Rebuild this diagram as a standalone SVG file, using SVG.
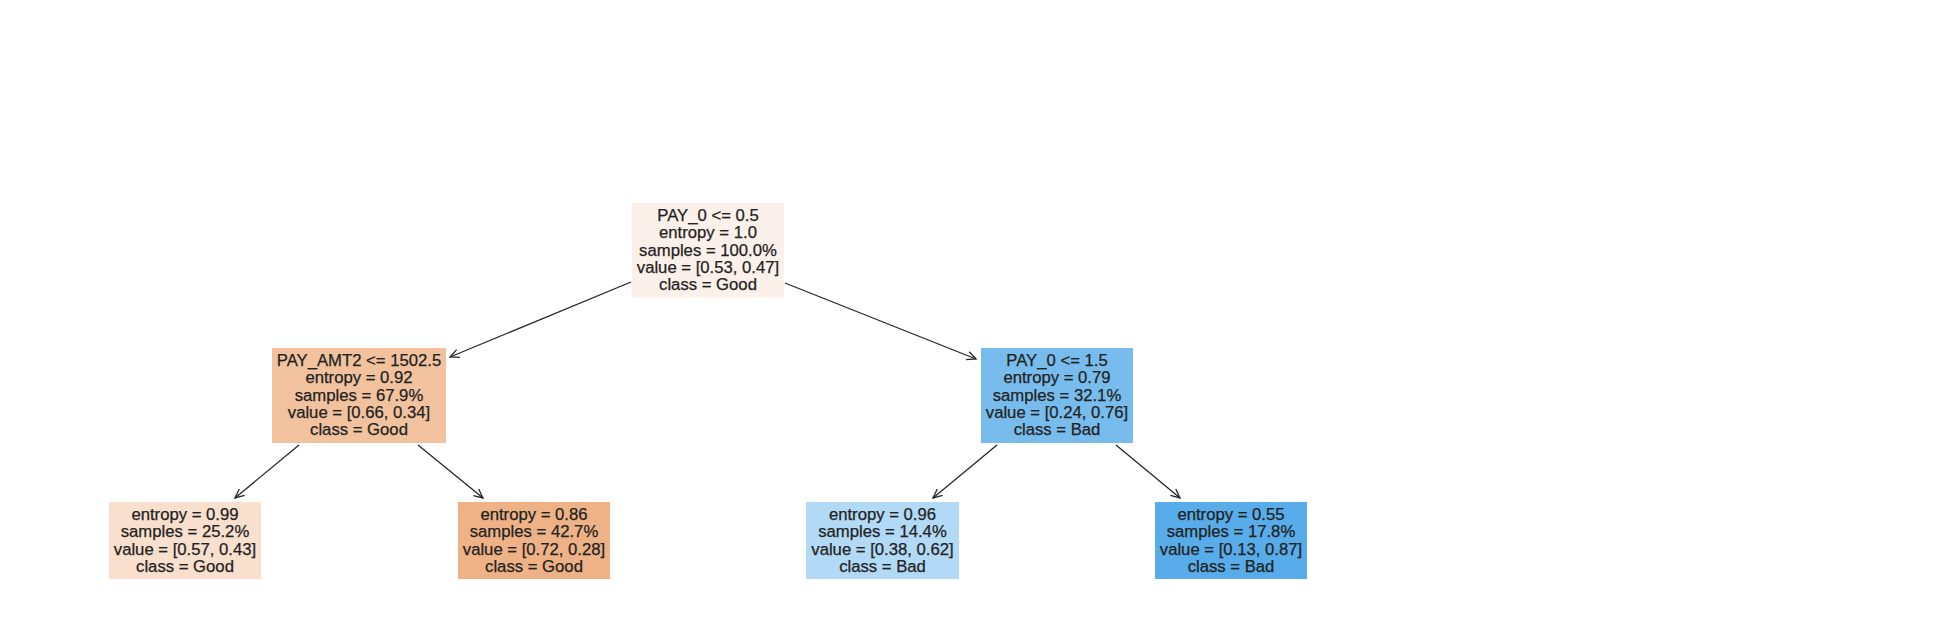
<svg xmlns="http://www.w3.org/2000/svg" width="1957" height="623" viewBox="0 0 1957 623">
<style>
  text { font-family: "Liberation Sans", Arial, sans-serif; font-size: 16.7px; fill: #222222; text-anchor: middle; stroke: #222222; stroke-width: 0.25px; }
  .edge { stroke: #262626; stroke-width: 1.3; fill: none; marker-end: url(#arr); }
</style>
<defs>
  <marker id="arr" markerUnits="userSpaceOnUse" markerWidth="14" markerHeight="12" viewBox="-11 -6 12 12" refX="0" refY="0" orient="auto">
    <path d="M-9,-4.2 L0,0 L-9,4.2" fill="none" stroke="#262626" stroke-width="1.3"/>
  </marker>
</defs>
<rect width="1957" height="623" fill="#ffffff"/>
<g id="connectors">
  <line class="edge" x1="631" y1="282" x2="450" y2="357"/>
  <line class="edge" x1="785" y1="283" x2="976" y2="359"/>
  <line class="edge" x1="299" y1="445" x2="235" y2="498"/>
  <line class="edge" x1="418" y1="445" x2="483" y2="498"/>
  <line class="edge" x1="997" y1="445" x2="933" y2="498"/>
  <line class="edge" x1="1116" y1="445" x2="1180" y2="498"/>
</g>
<g id="root">
  <rect x="632" y="203" width="152" height="95" fill="#fcf1ea"/>
  <text x="708" y="221">PAY_0 &lt;= 0.5</text>
  <text x="708" y="238.3">entropy = 1.0</text>
  <text x="708" y="255.6">samples = 100.0%</text>
  <text x="708" y="272.9">value = [0.53, 0.47]</text>
  <text x="708" y="290.2">class = Good</text>
</g>
<g id="node_left">
  <rect x="272" y="348" width="174" height="95" fill="#f2c29f"/>
  <text x="359" y="366">PAY_AMT2 &lt;= 1502.5</text>
  <text x="359" y="383.3">entropy = 0.92</text>
  <text x="359" y="400.6">samples = 67.9%</text>
  <text x="359" y="417.9">value = [0.66, 0.34]</text>
  <text x="359" y="435.2">class = Good</text>
</g>
<g id="node_right">
  <rect x="981" y="348" width="152" height="95" fill="#78bced"/>
  <text x="1057" y="366">PAY_0 &lt;= 1.5</text>
  <text x="1057" y="383.3">entropy = 0.79</text>
  <text x="1057" y="400.6">samples = 32.1%</text>
  <text x="1057" y="417.9">value = [0.24, 0.76]</text>
  <text x="1057" y="435.2">class = Bad</text>
</g>
<g id="leaf1">
  <rect x="109" y="502" width="152" height="77" fill="#f9e0ce"/>
  <text x="185" y="520">entropy = 0.99</text>
  <text x="185" y="537.3">samples = 25.2%</text>
  <text x="185" y="554.6">value = [0.57, 0.43]</text>
  <text x="185" y="571.9">class = Good</text>
</g>
<g id="leaf2">
  <rect x="458" y="502" width="152" height="77" fill="#efb286"/>
  <text x="534" y="520">entropy = 0.86</text>
  <text x="534" y="537.3">samples = 42.7%</text>
  <text x="534" y="554.6">value = [0.72, 0.28]</text>
  <text x="534" y="571.9">class = Good</text>
</g>
<g id="leaf3">
  <rect x="806" y="502" width="153" height="77" fill="#b2d9f5"/>
  <text x="882.5" y="520">entropy = 0.96</text>
  <text x="882.5" y="537.3">samples = 14.4%</text>
  <text x="882.5" y="554.6">value = [0.38, 0.62]</text>
  <text x="882.5" y="571.9">class = Bad</text>
</g>
<g id="leaf4">
  <rect x="1155" y="502" width="152" height="77" fill="#57ace9"/>
  <text x="1231" y="520">entropy = 0.55</text>
  <text x="1231" y="537.3">samples = 17.8%</text>
  <text x="1231" y="554.6">value = [0.13, 0.87]</text>
  <text x="1231" y="571.9">class = Bad</text>
</g>
</svg>
